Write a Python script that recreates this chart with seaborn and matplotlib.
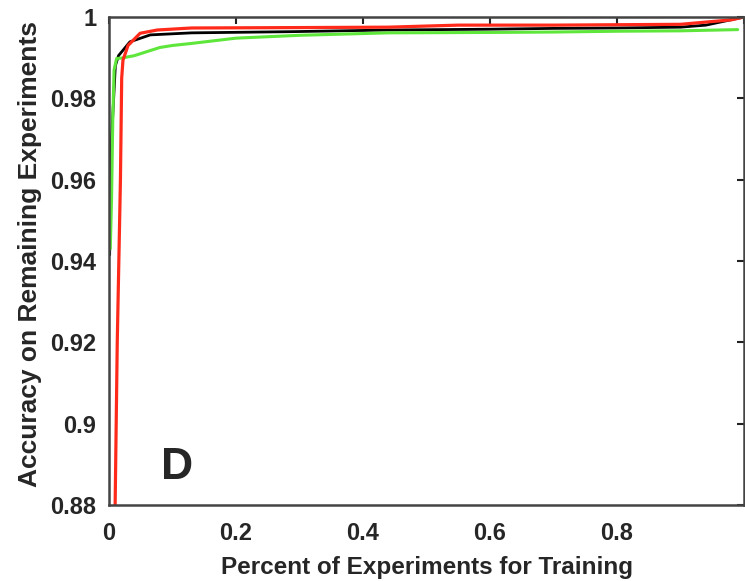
import numpy as np
import seaborn as sns
import matplotlib.pyplot as plt

# values
green_x = [0.002, 0.004, 0.006, 0.008, 0.012, 0.02, 0.04, 0.06, 0.08, 0.1, 0.13, 0.2,
           0.3, 0.44, 0.6, 0.7, 0.8, 0.9, 0.99]
green_y = [0.943, 0.955, 0.975, 0.987, 0.9898, 0.9899, 0.9905, 0.9915, 0.9925, 0.993, 0.9935, 0.9948,
           0.9955, 0.9961, 0.9962, 0.9963, 0.9965, 0.9966, 0.9969]

black_x = [0.001, 0.004, 0.01, 0.015, 0.033, 0.065, 0.13, 0.29, 0.44, 0.6, 0.7, 0.8, 0.9, 0.94, 0.97, 1.0]
black_y = [0.9415, 0.97, 0.988, 0.9905, 0.9939, 0.9956, 0.9961, 0.9964, 0.9968, 0.997, 0.9972, 0.9973,
           0.9975, 0.998, 0.999, 1.0]

red_x = [0.008, 0.013, 0.018, 0.02, 0.022, 0.03, 0.049, 0.076, 0.13, 0.3, 0.44, 0.55, 0.7, 0.9, 0.98, 1.0]
red_y = [0.86, 0.92, 0.96, 0.985, 0.9894, 0.993, 0.996, 0.9968, 0.9973, 0.9974, 0.9975, 0.998,
         0.998, 0.9982, 0.9993, 1.0]

xticks = [0, 0.2, 0.4, 0.6, 0.8, 1.0]
xticklabels = ['0', '0.2', '0.4', '0.6', '0.8', '']
yticks = [0.88, 0.9, 0.92, 0.94, 0.96, 0.98, 1.0]
yticklabels = ['0.88', '0.9', '0.92', '0.94', '0.96', '0.98', '1']

sns.set_theme(style='white')
plt.rcParams['font.family'] = ['Liberation Sans', 'DejaVu Sans']
plt.rcParams['font.weight'] = 'bold'

fig = plt.figure(figsize=(7.45, 5.81), dpi=100)
ax = fig.add_axes([109 / 745, 1 - 505 / 581, 635 / 745, 488 / 581])

sns.lineplot(x=black_x, y=black_y, ax=ax, color='black', linewidth=2.0)
sns.lineplot(x=green_x, y=green_y, ax=ax, color='#5ee63a', linewidth=2.2)
sns.lineplot(x=red_x, y=red_y, ax=ax, color='#ff2a1a', linewidth=2.3)

ax.set_xlim(0, 1)
ax.set_ylim(0.88, 1.0)
ax.set_xticks(xticks)
ax.set_xticklabels(xticklabels, fontsize=17, fontweight='bold')
ax.set_yticks(yticks)
ax.set_yticklabels(yticklabels, fontsize=17, fontweight='bold')
ax.tick_params(direction='in', length=5, width=1.5, color='#222222',
               top=True, right=True, pad=9)
ax.tick_params(axis='x', pad=12)
for s in ax.spines.values():
    s.set_color('#444444')
    s.set_linewidth(1.8)

ax.set_xlabel('')
ax.set_ylabel('')
fig.text(30 / 745, 1 - 254 / 581, 'Accuracy on Remaining Experiments', rotation=90,
         ha='center', va='center', fontsize=19, fontweight='bold')
fig.text(427 / 745, 2 / 581, 'Percent of Experiments for Training',
         ha='center', va='bottom', fontsize=17.5, fontweight='bold')
ax.text(0.082, 0.8842, 'D', fontsize=32, fontweight='bold', ha='left', va='bottom')

fig.savefig('out.png', dpi=100)
